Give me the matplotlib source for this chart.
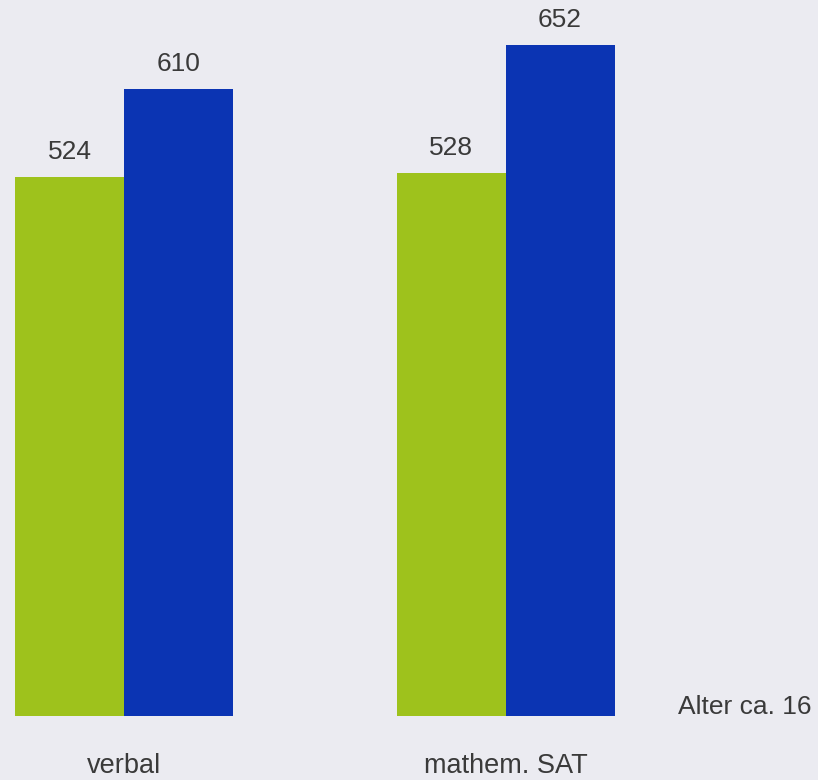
import matplotlib
matplotlib.use("Agg")
import matplotlib.pyplot as plt

categories = ["verbal", "mathem. SAT"]
green_values = [524, 528]
blue_values = [610, 652]
note = "Alter ca. 16"

GREEN = "#9ec21c"
BLUE = "#0b34b3"
BG = "#ebebf1"
TEXT = "#3a3a3a"

plt.rcParams["font.family"] = ["Liberation Sans", "DejaVu Sans"]

DPI = 100
W, H = 818, 780
fig = plt.figure(figsize=(W / DPI, H / DPI), dpi=DPI, facecolor=BG)
ax = fig.add_axes([0, 0, 1, 1])
ax.set_facecolor(BG)

group_step = 3.5
bar_w = 1.0
centers = [i * group_step for i in range(len(categories))]

# horizontal scale: 109 px per bar width, first bar starting 15 px from the left
px_x = 109.0
x0 = -1.0 - 15 / px_x
ax.set_xlim(x0, x0 + W / px_x)
# vertical scale: baseline 64 px above the bottom edge
px_y = 1.0286
ax.set_ylim(-64 / px_y, (H - 64) / px_y)

gb = ax.bar([c - bar_w / 2 for c in centers], green_values, width=bar_w,
            color=GREEN, edgecolor="none")
bb = ax.bar([c + bar_w / 2 for c in centers], blue_values, width=bar_w,
            color=BLUE, edgecolor="none")

pt = 72 / DPI
for bars, vals in ((gb, green_values), (bb, blue_values)):
    for rect, v in zip(bars, vals):
        ax.annotate(f"{v}", (rect.get_x() + rect.get_width() / 2, v),
                    xytext=(0, 18 * pt), textcoords="offset points",
                    ha="center", va="baseline", fontsize=19, color=TEXT)

for c, label in zip(centers, categories):
    ax.annotate(label, (c, 0), xytext=(0, -57 * pt), textcoords="offset points",
                ha="center", va="baseline", fontsize=19.5, color=TEXT)

fig.text(678 / W, (H - 714) / H, note, ha="left", va="baseline",
         fontsize=19, color=TEXT)

ax.axis("off")
fig.savefig("out.png", dpi=DPI, facecolor=BG)
